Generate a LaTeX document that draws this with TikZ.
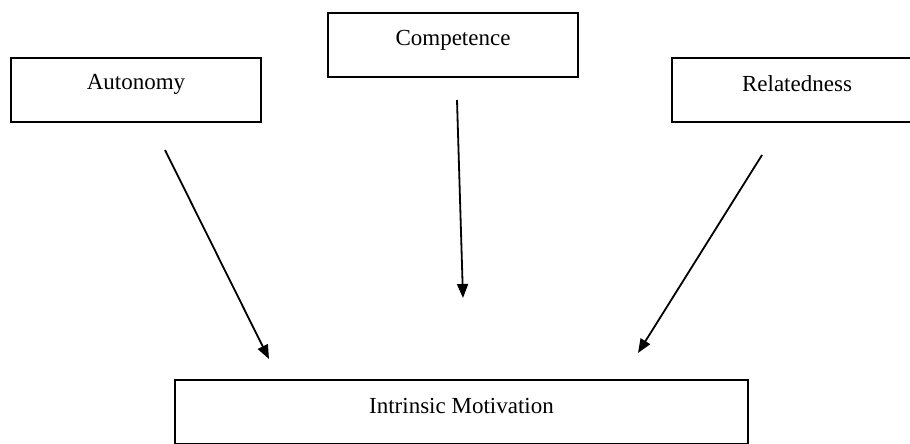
\documentclass[tikz,border=0pt]{standalone}
\usepackage{fontspec}
\setmainfont{Liberation Serif}
\usetikzlibrary{arrows.meta}
\begin{document}
\begin{tikzpicture}[x=1pt,y=-1pt,
  box/.style={draw=black, line width=2.4pt, minimum height=64pt, inner sep=0pt},
  lbl/.style={font=\fontsize{23}{27}\selectfont},
  arr/.style={line width=1.8pt, -{Triangle[length=14pt,width=11pt]}}]
\useasboundingbox (0,0) rectangle (910,444);
\begin{scope}
\clip (0,0) rectangle (910,444);
\node[box, minimum width=250pt] (auto) at (136,90) {};
\node[lbl] (autot) at (136,84) {Autonomy};
\node[box, minimum width=250pt] (comp) at (453,45) {};
\node[lbl] (compt) at (453,40) {Competence};
\node[box, minimum width=250pt] (rel) at (797,90) {};
\node[lbl] (relt) at (797,84) {Relatedness};
\node[draw=black, line width=2.4pt, minimum width=573pt, minimum height=64pt, inner sep=0pt] (im) at (461.5,412) {};
\node[lbl] (imt) at (461.5,406) {Intrinsic Motivation};
\end{scope}
\coordinate (a1) at (165,150); \coordinate (a2) at (269,359);
\coordinate (c1) at (457,100); \coordinate (c2) at (463,298);
\coordinate (r1) at (762,155); \coordinate (r2) at (638,353);
\draw[arr] (a1) -- (a2);
\draw[arr] (c1) -- (c2);
\draw[arr] (r1) -- (r2);
\end{tikzpicture}
\end{document}
